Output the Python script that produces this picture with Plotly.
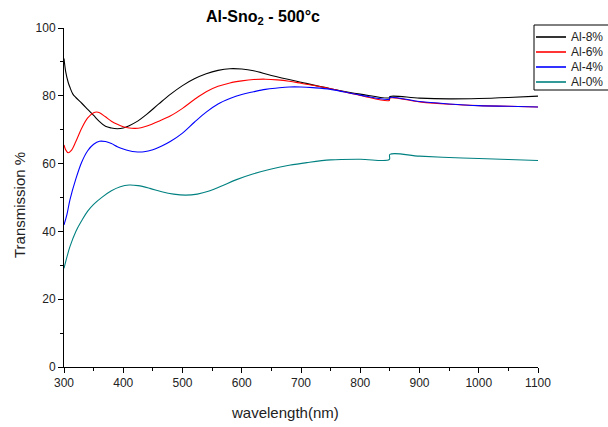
import plotly.graph_objects as go

x_al8 = [300, 303, 307, 310, 315, 320, 330, 340, 350, 360, 370, 380, 390, 400, 410, 425, 440, 460, 480, 500, 520, 540, 560, 580, 600, 620, 650, 700, 750, 800, 849, 850, 900, 950, 1000, 1050, 1100]
y_al8 = [91, 87, 84, 82.5, 80.5, 79.5, 77.8, 76, 74.2, 72.4, 71, 70.5, 70.3, 70.5, 71.2, 72.6, 74.6, 77.6, 80.5, 83.0, 85.0, 86.5, 87.5, 88.0, 87.9, 87.4, 86.0, 84.0, 82.1, 80.5, 79.4, 79.8, 79.3, 79.1, 79.2, 79.5, 79.9]

x_al6 = [300, 303, 307, 312, 320, 330, 340, 350, 355, 360, 370, 380, 390, 400, 410, 420, 430, 440, 460, 480, 500, 520, 540, 560, 580, 600, 620, 640, 660, 680, 700, 750, 800, 849, 850, 900, 950, 1000, 1050, 1100]
y_al6 = [65.5, 64, 63.2, 63.8, 66.5, 70.5, 73.5, 75, 75.2, 75, 73.8, 72.5, 71.6, 70.9, 70.5, 70.4, 70.6, 71.1, 72.5, 74.1, 76.3, 78.9, 81.2, 82.8, 83.8, 84.4, 84.8, 84.9, 84.7, 84.3, 83.7, 82.1, 80.1, 78.6, 79.3, 78.2, 77.5, 77.1, 76.9, 76.7]

x_al4 = [300, 305, 310, 320, 330, 340, 350, 360, 370, 380, 390, 400, 410, 420, 435, 450, 465, 480, 500, 520, 540, 560, 580, 600, 620, 640, 660, 680, 700, 720, 750, 800, 849, 850, 900, 950, 1000, 1050, 1100]
y_al4 = [41.9, 45, 49.3, 55.5, 60.5, 63.8, 65.7, 66.6, 66.5, 65.9, 65, 64.3, 63.8, 63.5, 63.5, 64.1, 65.2, 66.6, 69.0, 72.2, 75.2, 77.6, 79.2, 80.4, 81.2, 81.9, 82.3, 82.6, 82.6, 82.4, 81.9, 80.2, 79.0, 79.5, 78.3, 77.6, 77.1, 76.9, 76.7]

x_al0 = [300, 305, 310, 320, 330, 340, 350, 365, 380, 395, 410, 425, 445, 465, 485, 505, 525, 545, 565, 590, 620, 650, 680, 710, 750, 800, 849, 850, 900, 950, 1000, 1050, 1100]
y_al0 = [29.1, 32.5, 35.5, 40, 43.2, 46, 48, 50.2, 52, 53.2, 53.7, 53.5, 52.7, 51.7, 51.0, 50.7, 51.0, 51.9, 53.3, 55.2, 57, 58.4, 59.5, 60.3, 61.1, 61.3, 61.2, 62.7, 62.2, 61.8, 61.5, 61.2, 60.9]

series_names = ["Al-8%", "Al-6%", "Al-4%", "Al-0%"]
series_colors = ["#000000", "#ff0000", "#0000ff", "#008080"]
x_ticks = [300, 400, 500, 600, 700, 800, 900, 1000, 1100]
y_ticks = [0, 20, 40, 60, 80, 100]

FONT = "Liberation Sans, Arial, sans-serif"

fig = go.Figure()
for name, xs, ys, col in zip(series_names, [x_al8, x_al6, x_al4, x_al0], [y_al8, y_al6, y_al4, y_al0], series_colors):
    fig.add_trace(go.Scatter(x=xs, y=ys, mode="lines", name=name, showlegend=False,
                             line=dict(color=col, width=1.1, shape="spline", smoothing=1.0)))

# helpers converting reference pixels into paper coordinates of the plot area
def px_x(p):
    return (p - 64) / 474.0

def px_y(p):
    return (367 - p) / 339.0

shapes = [dict(type="rect", xref="paper", yref="paper",
               x0=px_x(534), x1=px_x(612), y0=px_y(90), y1=px_y(25),
               line=dict(color="#000", width=1), fillcolor="white", layer="above")]
annotations = []
for i, (name, col) in enumerate(zip(series_names, series_colors)):
    yy = px_y(37 + 15 * i)
    shapes.append(dict(type="line", xref="paper", yref="paper",
                       x0=px_x(536), x1=px_x(566), y0=yy, y1=yy,
                       line=dict(color=col, width=1.6), layer="above"))
    annotations.append(dict(text=name, xref="paper", yref="paper", x=px_x(569), y=yy,
                            xanchor="left", yanchor="middle", showarrow=False,
                            font=dict(family=FONT, size=12, color="#222")))

annotations.append(dict(text="wavelength(nm)", xref="paper", yref="paper",
                        x=px_x(285), y=px_y(412), xanchor="center", yanchor="middle",
                        showarrow=False, font=dict(family=FONT, size=15, color="#222")))
annotations.append(dict(text="Transmission %", xref="paper", yref="paper", textangle=-90,
                        x=px_x(20), y=px_y(205), xanchor="center", yanchor="middle",
                        showarrow=False, font=dict(family=FONT, size=15, color="#222")))
annotations.append(dict(text="<b>Al-Sno<sub>2</sub> - 500°c</b>", xref="paper", yref="paper",
                        x=px_x(263), y=px_y(17), xanchor="center", yanchor="middle",
                        showarrow=False, font=dict(family=FONT, size=16, color="#000")))

fig.update_layout(
    width=608, height=427,
    margin=dict(l=64, r=70, t=28, b=60, autoexpand=False),
    paper_bgcolor="white", plot_bgcolor="white",
    font=dict(family=FONT, size=12, color="#222"),
    showlegend=False,
    shapes=shapes,
    annotations=annotations,
)
fig.update_xaxes(range=[300, 1100], tickvals=x_ticks,
                 ticks="outside", ticklen=5, tickcolor="#000", showline=True, linecolor="#000", linewidth=1,
                 showgrid=False, zeroline=False, automargin=False,
                 tickfont=dict(family=FONT, size=12, color="#222"),
                 minor=dict(tickvals=[350, 450, 550, 650, 750, 850, 950, 1050], ticks="outside", ticklen=3, tickcolor="#000"))
fig.update_yaxes(range=[0, 100], tickvals=y_ticks,
                 ticks="outside", ticklen=5, tickcolor="#000", showline=True, linecolor="#000", linewidth=1,
                 showgrid=False, zeroline=False, automargin=False,
                 tickfont=dict(family=FONT, size=12, color="#222"),
                 minor=dict(tickvals=[10, 30, 50, 70, 90], ticks="outside", ticklen=3, tickcolor="#000"))

fig.write_html("out.html", config={"displayModeBar": False},
               post_script="document.body.style.margin='0';document.body.style.overflow='hidden';")
